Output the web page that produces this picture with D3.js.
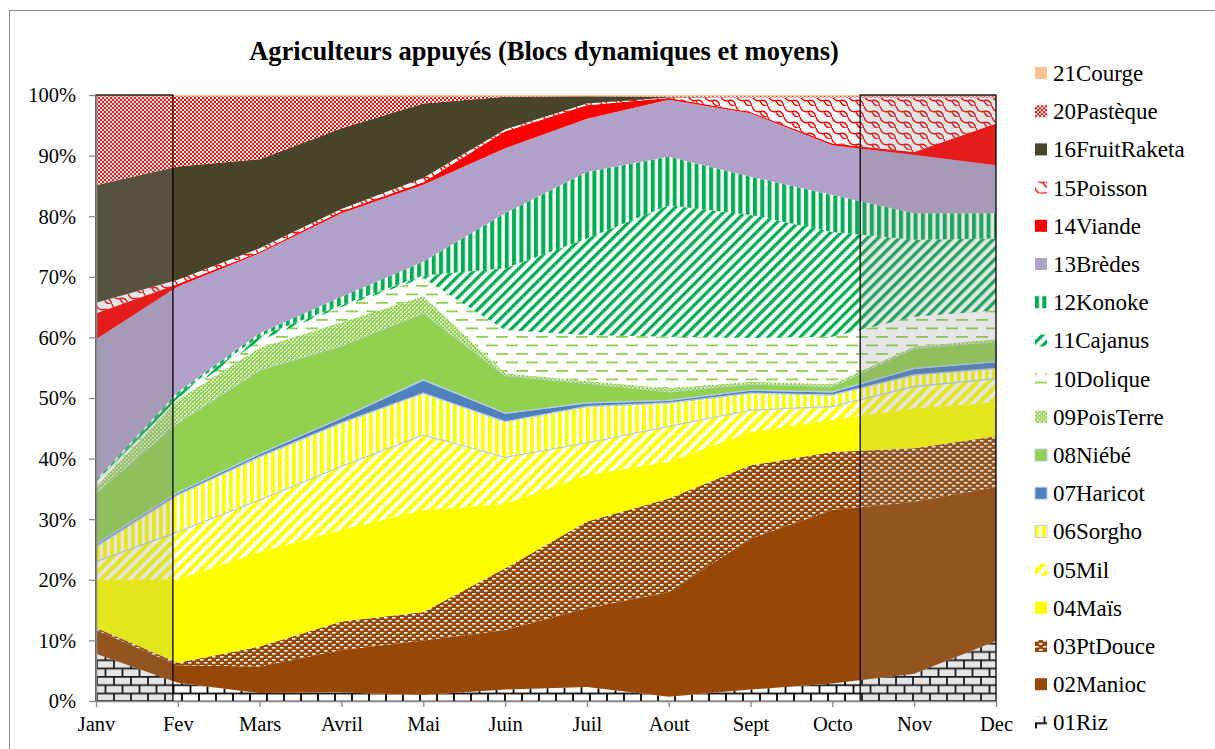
<!DOCTYPE html>
<html>
<head>
<meta charset="utf-8">
<script src="https://cdn.jsdelivr.net/npm/d3@7"></script>
<style>
  body { margin: 0; background: #fff; }
  text { font-family: "Liberation Serif", "Times New Roman", serif; fill: #000; }
</style>
</head>
<body>
<div id="chart"></div>
<script>

// months on the x axis
const months = ["Janv", "Fev", "Mars", "Avril", "Mai", "Juin", "Juil", "Aout", "Sept", "Octo", "Nov", "Dec"];

// crops, bottom of the stack first
const crops = ["01Riz", "02Manioc", "03PtDouce", "04Maïs", "05Mil", "06Sorgho", "07Haricot", "08Niébé",
    "09PoisTerre", "10Dolique", "11Cajanus", "12Konoke", "13Brèdes", "14Viande", "15Poisson",
    "16FruitRaketa", "20Pastèque", "21Courge"];

// share of farmers (%) per month
const riz       = [7.8, 3.0, 1.3, 1.4, 1.0, 1.9, 2.3, 0.7, 1.9, 2.9, 4.5, 9.9];
const manioc    = [3.9, 2.9, 4.4, 7.0, 9.0, 9.8, 13.0, 17.3, 24.9, 28.6, 28.4, 25.4];
const ptDouce   = [0.4, 0.4, 3.3, 4.7, 4.7, 10.2, 14.3, 15.4, 12.1, 9.6, 8.8, 8.4];
const mais      = [7.9, 13.8, 15.6, 15.1, 16.8, 10.6, 7.7, 6.1, 5.5, 5.3, 6.6, 5.6];
const mil       = [3.0, 7.8, 8.6, 10.5, 12.4, 7.7, 5.3, 5.8, 3.6, 2.2, 3.6, 3.9];
const sorgho    = [2.5, 6.1, 7.1, 7.2, 6.9, 5.9, 6.0, 3.9, 2.8, 1.9, 1.9, 1.7];
const haricot   = [0.4, 0.4, 0.5, 0.8, 2.2, 1.4, 0.6, 0.4, 0.5, 0.5, 1.1, 1.1];
const niebe     = [8.4, 11.5, 13.8, 11.9, 11.0, 6.2, 3.2, 1.4, 1.0, 0.9, 3.3, 3.3];
const poisTerre = [1.0, 3.8, 3.7, 3.9, 2.8, 0.4, 0.4, 0.6, 0.4, 0.4, 0.3, 0.4];
const dolique   = [0.3, 0.3, 1.2, 2.5, 3.0, 7.1, 7.6, 8.5, 7.2, 7.8, 4.9, 4.8];
const cajanus   = [0.6, 0.6, 0.7, 0.3, 0.4, 10.2, 15.9, 21.7, 20.3, 17.3, 12.7, 11.8];
const konoke    = [0.3, 0.4, 0.5, 1.4, 2.3, 9.1, 11.0, 8.0, 6.3, 6.1, 4.4, 4.2];
const bredes    = [23.2, 17.4, 13.2, 13.8, 12.7, 10.7, 8.8, 9.4, 10.5, 8.2, 9.6, 7.9];
const viande    = [4.3, 0.4, 0.2, 0.3, 0.4, 2.8, 2.2, 0.3, 0.2, 0.3, 0.5, 6.9];
const poisson   = [1.7, 0.7, 0.6, 0.4, 0.7, 0.3, 0.3, 0.1, 2.4, 7.6, 9.0, 4.3];
const fruit     = [19.4, 18.7, 14.7, 13.3, 12.3, 5.4, 1.2, 0.1, 0, 0, 0, 0];
const pasteque  = [14.7, 11.6, 10.4, 5.3, 1.2, 0.1, 0.0, 0.1, 0.2, 0.2, 0.2, 0.2];
const courge    = [0.2, 0.2, 0.2, 0.2, 0.2, 0.2, 0.2, 0.2, 0.2, 0.2, 0.2, 0.2];

const cropValues = [riz, manioc, ptDouce, mais, mil, sorgho, haricot, niebe, poisTerre, dolique,
    cajanus, konoke, bredes, viande, poisson, fruit, pasteque, courge];

// highlighted periods (in month index units)
const highlights = [[0, 0.94], [9.34, 11]];

const yTicks = [0, 0.1, 0.2, 0.3, 0.4, 0.5, 0.6, 0.7, 0.8, 0.9, 1];

const serif = "'Liberation Serif', 'Times New Roman', serif";


class StackedAreaChart {

    constructor(parentElement) {
        this.parentElement = parentElement;
        this.displayData = [];
    }

    initVis() {
        let vis = this;

        vis.margin = {top: 95, right: 219, bottom: 48, left: 96};
        vis.width = 1215 - vis.margin.left - vis.margin.right;
        vis.height = 749 - vis.margin.top - vis.margin.bottom;

        vis.svg = d3.select("#" + vis.parentElement).append("svg")
            .attr("width", 1215)
            .attr("height", 749);

        // outer chart frame
        vis.svg.append("rect")
            .attr("x", 9.5).attr("y", 10.5)
            .attr("width", 1220).attr("height", 760)
            .attr("fill", "none")
            .attr("stroke", "#8c8c8c")
            .attr("stroke-width", 1);

        vis.svg.append("text")
            .attr("x", 544).attr("y", 60)
            .attr("text-anchor", "middle")
            .style("font-family", serif)
            .style("font-size", "26.5px")
            .style("font-weight", "bold")
            .text("Agriculteurs appuyés (Blocs dynamiques et moyens)");

        vis.makePatterns();

        vis.g = vis.svg.append("g")
            .attr("transform", "translate(" + vis.margin.left + "," + vis.margin.top + ")");

        vis.x = d3.scaleLinear().domain([0, months.length - 1]).range([0, vis.width]);
        vis.y = d3.scaleLinear().domain([0, 1]).range([vis.height, 0]);

        vis.area = d3.area()
            .x((d, i) => vis.x(i))
            .y0(d => vis.y(d[0]))
            .y1(d => vis.y(d[1]));

        vis.wrangleData();
    }

    makePatterns() {
        let vis = this;
        let defs = vis.svg.append("defs");

        function pat(id, w, h, transform) {
            let p = defs.append("pattern")
                .attr("id", id)
                .attr("patternUnits", "userSpaceOnUse")
                .attr("width", w).attr("height", h);
            if (transform) p.attr("patternTransform", transform);
            return p;
        }

        // brick
        let riz = pat("p-riz", 17, 16.6);
        riz.append("rect").attr("width", 17).attr("height", 16.6).attr("fill", "#fff");
        riz.append("path")
            .attr("d", "M0,0.8H17M0,9.1H17M1,0.8V9.1M9.5,9.1V17.4")
            .attr("stroke", "#000").attr("stroke-width", 1.8).attr("fill", "none");

        // brown with white dashes
        let pt = pat("p-ptdouce", 8, 6);
        pt.append("rect").attr("width", 8).attr("height", 6).attr("fill", "#974706");
        pt.append("rect").attr("x", 0).attr("y", 0).attr("width", 3.5).attr("height", 1.6).attr("fill", "#fff");
        pt.append("rect").attr("x", 4).attr("y", 3).attr("width", 3.5).attr("height", 1.6).attr("fill", "#fff");

        // yellow wide diagonal
        let mil = pat("p-mil", 8, 8, "rotate(45)");
        mil.append("rect").attr("width", 8).attr("height", 8).attr("fill", "#fff");
        mil.append("rect").attr("width", 4.2).attr("height", 8).attr("fill", "#ffff00");

        // yellow vertical stripes
        let sor = pat("p-sorgho", 7, 7);
        sor.append("rect").attr("width", 7).attr("height", 7).attr("fill", "#fff");
        sor.append("rect").attr("width", 3.8).attr("height", 7).attr("fill", "#ffff00");

        // green dotted grid
        let pois = pat("p-poisterre", 4, 4);
        pois.append("rect").attr("width", 4).attr("height", 4).attr("fill", "#92d050");
        pois.append("rect").attr("width", 1.6).attr("height", 1.6).attr("fill", "#fff");
        pois.append("rect").attr("x", 2).attr("y", 2).attr("width", 1.6).attr("height", 1.6).attr("fill", "#e8f5d9");

        // green dashed horizontal
        let dol = pat("p-dolique", 20, 17);
        dol.append("rect").attr("width", 20).attr("height", 17).attr("fill", "#fff");
        dol.append("rect").attr("x", 0).attr("y", 3).attr("width", 12).attr("height", 1.8).attr("fill", "#92d050");
        dol.append("rect").attr("x", 10).attr("y", 11.5).attr("width", 10).attr("height", 1.8).attr("fill", "#92d050");
        dol.append("rect").attr("x", 0).attr("y", 11.5).attr("width", 2).attr("height", 1.8).attr("fill", "#92d050");

        // green diagonal
        let caj = pat("p-cajanus", 7.5, 7.5, "rotate(45)");
        caj.append("rect").attr("width", 7.5).attr("height", 7.5).attr("fill", "#fff");
        caj.append("rect").attr("width", 3.3).attr("height", 7.5).attr("fill", "#00b050");

        // green vertical
        let kon = pat("p-konoke", 7.3, 7);
        kon.append("rect").attr("width", 7.3).attr("height", 7).attr("fill", "#fff");
        kon.append("rect").attr("width", 4).attr("height", 7).attr("fill", "#00b050");

        // red scales
        let poi = pat("p-poisson", 16, 11);
        poi.append("rect").attr("width", 16).attr("height", 11).attr("fill", "#fff");
        poi.append("path")
            .attr("d", "M0,0 Q2,7 8,5.5 M8,5.5 Q14,4 16,11 M8,5.5 Q10,12 16,11 M-8,5.5 Q-6,12 0,11 M16,0 Q18,7 24,5.5")
            .attr("stroke", "#ff0000").attr("stroke-width", 1.4).attr("fill", "none");

        // red checker
        let pas = pat("p-pasteque", 4, 4);
        pas.append("rect").attr("width", 4).attr("height", 4).attr("fill", "#fff");
        pas.append("rect").attr("width", 2).attr("height", 2).attr("fill", "#ff0000");
        pas.append("rect").attr("x", 2).attr("y", 2).attr("width", 2).attr("height", 2).attr("fill", "#ff0000");

        vis.fills = {
            "01Riz": "url(#p-riz)",
            "02Manioc": "#974706",
            "03PtDouce": "url(#p-ptdouce)",
            "04Maïs": "#ffff00",
            "05Mil": "url(#p-mil)",
            "06Sorgho": "url(#p-sorgho)",
            "07Haricot": "#4f81bd",
            "08Niébé": "#92d050",
            "09PoisTerre": "url(#p-poisterre)",
            "10Dolique": "url(#p-dolique)",
            "11Cajanus": "url(#p-cajanus)",
            "12Konoke": "url(#p-konoke)",
            "13Brèdes": "#b1a0c7",
            "14Viande": "#ff0000",
            "15Poisson": "url(#p-poisson)",
            "16FruitRaketa": "#4a452a",
            "20Pastèque": "url(#p-pasteque)",
            "21Courge": "#fac090"
        };
        // these series carry a light blue outline
        vis.outlined = ["06Sorgho", "07Haricot", "08Niébé"];
    }

    wrangleData() {
        let vis = this;

        let table = months.map((m, i) => {
            let row = {month: m};
            crops.forEach((c, j) => row[c] = cropValues[j][i]);
            return row;
        });

        vis.displayData = d3.stack()
            .keys(crops)
            .offset(d3.stackOffsetExpand)(table);

        vis.updateVis();
    }

    updateVis() {
        let vis = this;

        vis.g.selectAll(".area")
            .data(vis.displayData)
            .enter().append("path")
            .attr("class", "area")
            .attr("d", d => vis.area(d))
            .attr("fill", d => vis.fills[d.key])
            .attr("stroke", d => vis.outlined.includes(d.key) ? "#b9cde5" : "none")
            .attr("stroke-width", 1.3);

        // gray shaded periods
        vis.g.selectAll(".highlight")
            .data(highlights)
            .enter().append("rect")
            .attr("class", "highlight")
            .attr("x", d => vis.x(d[0]))
            .attr("y", vis.y(1))
            .attr("width", d => vis.x(d[1]) - vis.x(d[0]))
            .attr("height", vis.y(0) - vis.y(1))
            .attr("fill", "rgb(132,132,132)")
            .attr("fill-opacity", 0.21)
            .attr("stroke", "#000")
            .attr("stroke-width", 1.3);

        // axes
        let xAxis = d3.axisBottom(vis.x)
            .tickValues(d3.range(months.length))
            .tickFormat(i => months[i])
            .tickSizeInner(6).tickSizeOuter(0).tickPadding(9);
        let yAxis = d3.axisLeft(vis.y)
            .tickValues(yTicks)
            .tickFormat(d3.format(".0%"))
            .tickSizeInner(7).tickSizeOuter(0).tickPadding(13);

        let gx = vis.g.append("g")
            .attr("transform", "translate(0," + vis.height + ")")
            .call(xAxis);
        let gy = vis.g.append("g").call(yAxis);

        [gx, gy].forEach(a => {
            a.attr("font-family", null);
            a.select(".domain").attr("stroke", "#898989").attr("stroke-width", 1.6);
            a.selectAll(".tick line").attr("stroke", "#898989").attr("stroke-width", 1.3);
            a.selectAll("text")
                .style("font-family", serif)
                .style("font-size", "20.5px")
                .attr("fill", "#000");
        });
        gy.selectAll(".tick text").attr("dy", "0.34em");

        vis.drawLegend();
    }

    drawLegend() {
        let vis = this;

        let legend = vis.svg.append("g")
            .attr("transform", "translate(1035, 73)");

        let items = legend.selectAll(".legend-item")
            .data(crops.slice().reverse())
            .enter().append("g")
            .attr("class", "legend-item")
            .attr("transform", (d, i) => "translate(0," + (i * 38.2) + ")");

        items.append("rect")
            .attr("x", 0).attr("y", -6)
            .attr("width", 12).attr("height", 12)
            .attr("fill", d => vis.fills[d])
            .attr("stroke", d => vis.outlined.includes(d) ? "#b9cde5" : "none");

        items.append("text")
            .attr("x", 18).attr("y", 0)
            .attr("dy", "0.35em")
            .style("font-family", serif)
            .style("font-size", "23px")
            .text(d => d);
    }
}

let chart = new StackedAreaChart("chart");
chart.initVis();

</script>
</body>
</html>
